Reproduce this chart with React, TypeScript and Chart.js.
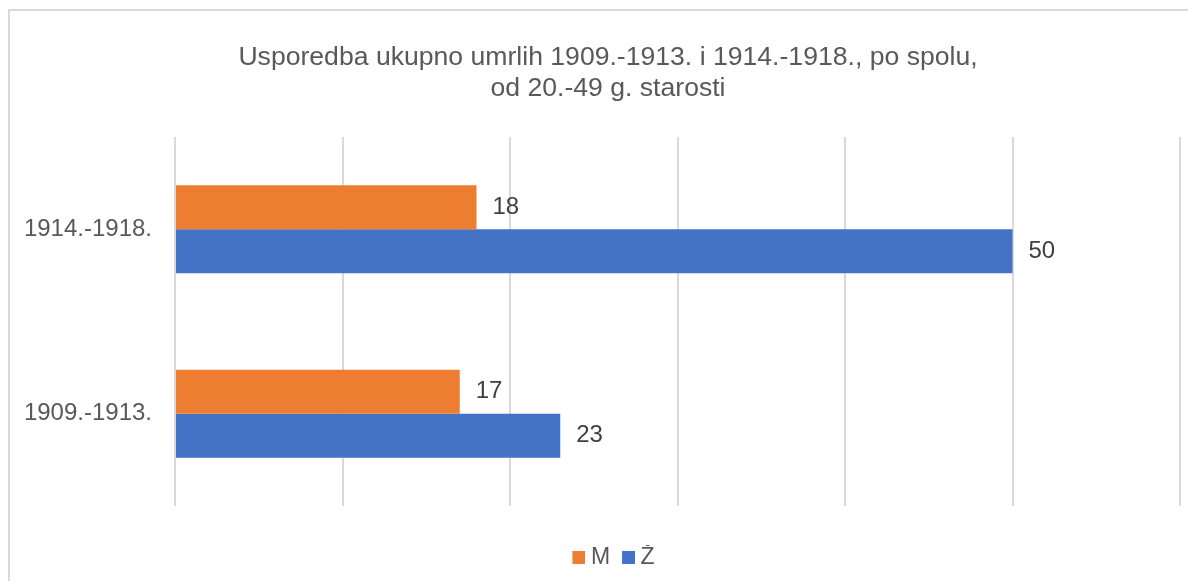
import React, { useEffect, useRef } from 'react';
import { Chart, registerables } from 'chart.js';

Chart.register(...registerables);

const categories = ['1914.-1918.', '1909.-1913.'];
const seriesM = [18, 17];
const seriesZ = [50, 23];
const seriesNames = ['M', 'Ž'];
const seriesColors = ['#ED7D31', '#4472C4'];
const titleLines = ['Usporedba ukupno umrlih 1909.-1913. i 1914.-1918., po spolu,', 'od 20.-49 g. starosti'];
const xMin = 0;
const xMax = 60;
const xStep = 10;

const FONT = "'Liberation Sans', Arial, sans-serif";

const valueLabels = {
  id: 'valueLabels',
  afterDatasetsDraw(chart: any) {
    const ctx = chart.ctx;
    ctx.save();
    ctx.font = `24px ${FONT}`;
    ctx.fillStyle = '#404040';
    ctx.textAlign = 'left';
    ctx.textBaseline = 'middle';
    chart.data.datasets.forEach((ds: any, i: number) => {
      const meta = chart.getDatasetMeta(i);
      meta.data.forEach((el: any, j: number) => {
        ctx.fillText(String(ds.data[j]), el.x + 16, el.y);
      });
    });
    ctx.restore();
  },
};

function makeIcon(color: string) {
  const c = document.createElement('canvas');
  c.width = 30;
  c.height = 13;
  const g = c.getContext('2d')!;
  g.fillStyle = color;
  g.fillRect(17, 0, 13, 13);
  return c;
}

export default function App() {
  const ref = useRef<HTMLCanvasElement>(null);

  useEffect(() => {
    if (!ref.current) return;
    const icons = seriesColors.map(makeIcon);
    const chart = new Chart(ref.current, {
      type: 'bar',
      data: {
        labels: categories,
        datasets: [
          { label: seriesNames[0], data: seriesM, backgroundColor: seriesColors[0], categoryPercentage: 0.477, barPercentage: 1 },
          { label: seriesNames[1], data: seriesZ, backgroundColor: seriesColors[1], categoryPercentage: 0.477, barPercentage: 1 },
        ],
      },
      options: {
        indexAxis: 'y',
        responsive: false,
        animation: false,
        layout: { padding: { left: 0, right: 0, top: 0, bottom: 2 } },
        plugins: {
          title: {
            display: true,
            text: titleLines,
            color: '#595959',
            font: { family: FONT, size: 26.6, weight: 'normal', lineHeight: 31 / 26.6 },
            padding: { top: 31, bottom: 33 },
          },
          legend: {
            position: 'bottom',
            labels: {
              usePointStyle: true,
              pointStyleWidth: 18,
              boxHeight: 13,
              padding: 1,
              color: '#595959',
              font: { family: FONT, size: 23 },
              generateLabels(chart: any) {
                const items = (Chart.defaults.plugins.legend.labels as any).generateLabels(chart);
                items.forEach((it: any, i: number) => {
                  it.pointStyle = icons[i];
                });
                return items;
              },
            },
          },
          tooltip: { enabled: false },
        },
        scales: {
          x: {
            min: xMin,
            max: xMax,
            ticks: { display: false, stepSize: xStep },
            grid: { color: '#d9d9d9', lineWidth: 2, drawTicks: false },
            border: { display: false },
            afterFit(scale: any) {
              scale.height = 39;
            },
          },
          y: {
            ticks: { color: '#595959', font: { family: FONT, size: 24 }, padding: 23 },
            grid: { display: false, drawTicks: false },
            border: { display: false },
            afterFit(scale: any) {
              scale.width = 165;
            },
          },
          yRightSpace: {
            type: 'linear',
            position: 'right',
            display: true,
            ticks: { display: false },
            grid: { display: false, drawTicks: false },
            border: { display: false },
            afterFit(scale: any) {
              scale.width = 26;
            },
          },
        },
      },
      plugins: [valueLabels],
    });
    return () => chart.destroy();
  }, []);

  return (
    <div
      style={{
        borderLeft: '2px solid #d9d9d9',
        borderTop: '2px solid #d9d9d9',
        width: 1180,
        height: 572,
        boxSizing: 'border-box',
        marginTop: 1,
        background: '#fff',
        overflow: 'hidden',
      }}
    >
      <canvas ref={ref} width={1196} height={570} style={{ display: 'block' }} />
    </div>
  );
}
